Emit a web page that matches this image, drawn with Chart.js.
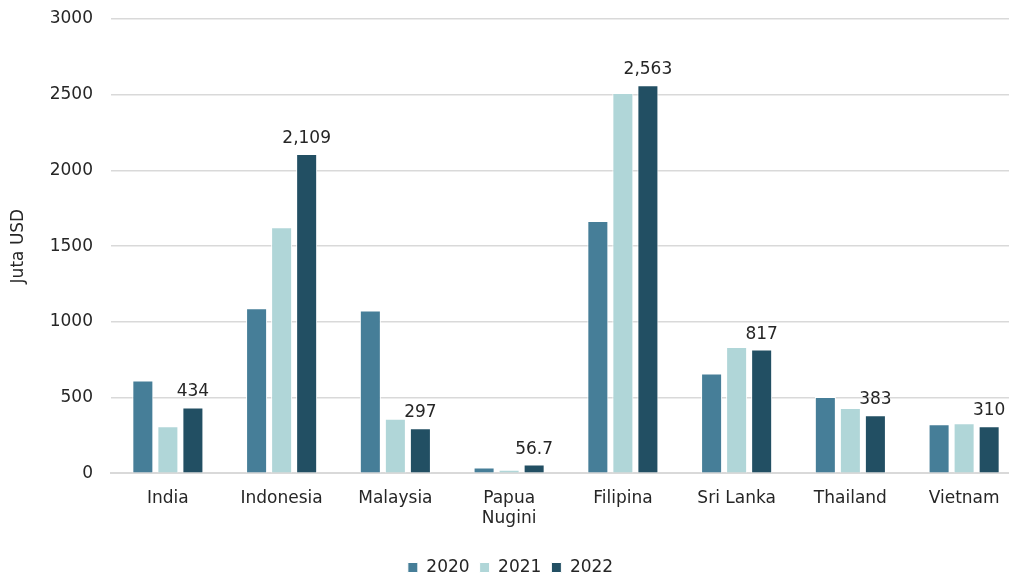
<!DOCTYPE html>
<html>
<head>
<meta charset="utf-8">
<title>Juta USD</title>
<script src="https://cdn.jsdelivr.net/npm/chart.js@4.4.1/dist/chart.umd.min.js"></script>
<style>
  html, body { margin: 0; padding: 0; background: #fff; overflow: hidden; }
  /* plot runs off the right edge, so the canvas is a bit wider than the frame */
  #wrap { width: 1009px; height: 575px; overflow: hidden; }
</style>
</head>
<body>
<div id="wrap"><canvas id="chart" width="1021" height="575"></canvas></div>
<script>
const countries = ['India', 'Indonesia', 'Malaysia', ['Papua', 'Nugini'], 'Filipina', 'Sri Lanka', 'Thailand', 'Vietnam'];
const years = ['2020', '2021', '2022'];
const values2020 = [613, 1090, 1075, 38, 1666, 659, 503, 323];
const values2021 = [310, 1624, 360, 22, 2512, 833, 430, 330];
const values2022 = [434, 2109, 297, 56.7, 2563, 817, 383, 310];
const yTicks = [0, 500, 1000, 1500, 2000, 2500, 3000];

const colors = ['#467e98', '#b0d6d8', '#224f63'];
const textColor = '#262626';
const fontFamily = '"DejaVu Sans", sans-serif';

// value labels above the 2022 bars
const barLabels = {
  id: 'barLabels',
  afterDatasetsDraw(chart) {
    const ctx = chart.ctx;
    const meta = chart.getDatasetMeta(2);
    ctx.save();
    ctx.font = '17px ' + fontFamily;
    ctx.fillStyle = textColor;
    ctx.textAlign = 'center';
    ctx.textBaseline = 'alphabetic';
    meta.data.forEach((bar, i) => {
      ctx.fillText(values2022[i].toLocaleString('en-US'), bar.x, bar.y - 11);
    });
    ctx.restore();
  }
};

new Chart(document.getElementById('chart'), {
  type: 'bar',
  data: {
    labels: countries,
    datasets: [values2020, values2021, values2022].map((d, i) => ({
      label: years[i],
      data: d,
      backgroundColor: colors[i],
      borderColor: '#ffffff',
      borderWidth: 1,
      categoryPercentage: 0.66,
      barPercentage: 0.84
    }))
  },
  options: {
    responsive: false,
    animation: false,
    layout: { padding: { left: 0, right: 0, top: 19, bottom: -11 } },
    plugins: {
      legend: {
        position: 'bottom',
        labels: {
          boxWidth: 10,
          boxHeight: 10,
          padding: 10,
          color: textColor,
          font: { family: fontFamily, size: 17 }
        }
      },
      tooltip: { enabled: false }
    },
    scales: {
      x: {
        grid: { display: false },
        border: { color: '#d9d9d9', width: 2 },
        afterFit(axis) { axis.height += 13; },
        ticks: {
          color: textColor,
          padding: 7,
          maxRotation: 0,
          font: { family: fontFamily, size: 17 }
        }
      },
      y: {
        min: 0,
        max: 3000,
        afterBuildTicks(axis) { axis.ticks = yTicks.map(v => ({ value: v })); },
        afterFit(axis) {
          axis.width = 111;
          axis.paddingTop = 0;
          axis.paddingBottom = 0;
        },
        grid: { color: '#d9d9d9', lineWidth: 1.5, drawTicks: false },
        border: { display: false },
        ticks: {
          color: textColor,
          padding: 18,
          font: { family: fontFamily, size: 17 },
          callback: v => String(v)
        },
        title: {
          display: true,
          text: 'Juta USD',
          color: textColor,
          padding: { top: 8, bottom: 0 },
          font: { family: fontFamily, size: 17 }
        }
      }
    }
  },
  plugins: [barLabels]
});
</script>
</body>
</html>
